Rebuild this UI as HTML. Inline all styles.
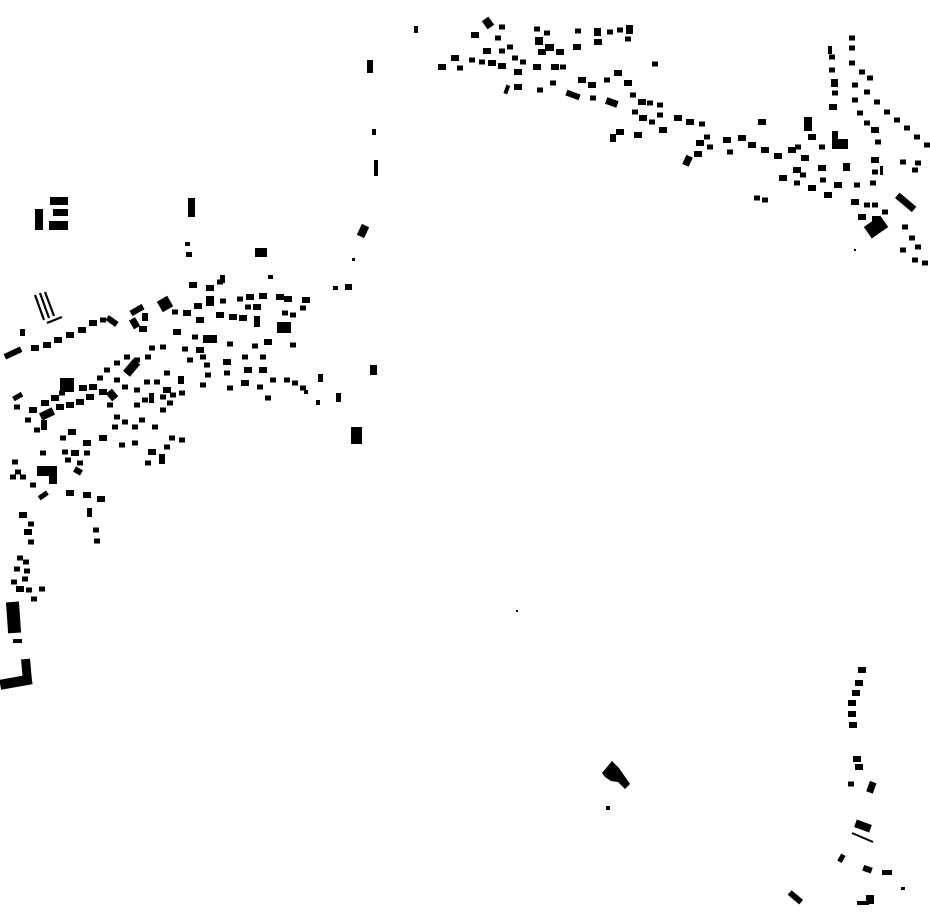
<!DOCTYPE html>
<html><head><meta charset="utf-8"><style>
html,body{margin:0;padding:0;background:#fff;width:930px;height:924px;overflow:hidden}
svg{display:block}
</style></head><body>
<svg width="930" height="924" viewBox="0 0 930 924" xmlns="http://www.w3.org/2000/svg">
<defs><rect id="d" x="-4" y="-3" width="8" height="6"/><rect id="s" x="-3" y="-2.5" width="6" height="5"/></defs>
<g fill="#000">
<rect x="50" y="197" width="18" height="8"/><rect x="53" y="209" width="15" height="7"/><rect x="49" y="221" width="19" height="9"/><rect x="35" y="209" width="8" height="21"/>
<rect x="188" y="198" width="7" height="19"/><rect x="185" y="242" width="5" height="4"/><rect x="186" y="252" width="6" height="5"/>
<rect x="255" y="248" width="12" height="9"/><rect x="268" y="275" width="5" height="4"/>
<rect x="192" y="283" width="5" height="4"/><rect x="206" y="287" width="7" height="4"/><rect x="220" y="275" width="5" height="8"/>
<rect x="359" y="225" width="8" height="12" transform="rotate(25 363 231)"/><rect x="345" y="284" width="7" height="6"/><rect x="333" y="286" width="5" height="4"/><rect x="352" y="258" width="3" height="3"/>
<rect x="414" y="26" width="4" height="7"/><rect x="367" y="60" width="6" height="13"/><rect x="372" y="129" width="4" height="6"/><rect x="374" y="160" width="4" height="16"/>
<rect x="370" y="365" width="7" height="10"/><rect x="351" y="427" width="11" height="17"/><rect x="336" y="393" width="5" height="9"/><rect x="318" y="374" width="5" height="8"/><rect x="316" y="400" width="4" height="5"/><rect x="304" y="390" width="4" height="4"/>
<g stroke="#000" stroke-width="2.2"><line x1="35" y1="295" x2="44" y2="320"/><line x1="40" y1="293" x2="49" y2="318"/><line x1="45" y1="292" x2="54" y2="316"/><line x1="47" y1="323" x2="62" y2="317"/></g>
<g>
<use href="#d" x="193" y="285"/><use href="#d" x="210" y="288"/><use href="#s" x="220" y="282"/><use href="#d" x="280" y="297"/><use href="#d" x="263" y="296"/><use href="#d" x="250" y="297"/><use href="#s" x="240" y="299"/><use href="#d" x="288" y="299"/><use href="#d" x="306" y="300"/><use href="#s" x="303" y="308"/>
<use href="#d" x="198" y="306"/><rect x="206" y="296" width="8" height="10"/><use href="#s" x="223" y="301"/><rect x="159" y="298" width="12" height="12" transform="rotate(-30 165 304)"/><use href="#s" x="175" y="312"/><use href="#d" x="187" y="313"/>
<rect x="130" y="307" width="14" height="6" transform="rotate(-30 137 310)"/><rect x="142" y="313" width="6" height="8"/><rect x="131" y="318" width="7" height="10" transform="rotate(-30 135 323)"/><use href="#d" x="143" y="329"/>
<rect x="106" y="318" width="12" height="6" transform="rotate(35 112 321)"/><use href="#s" x="103" y="320"/><use href="#d" x="93" y="323"/><use href="#d" x="82" y="330"/><use href="#d" x="70" y="335"/><use href="#d" x="58" y="340"/><use href="#d" x="47" y="345"/><use href="#d" x="35" y="348"/><rect x="4" y="350" width="18" height="6" transform="rotate(-25 13 353)"/><rect x="20" y="329" width="5" height="7"/>
<use href="#d" x="200" y="320"/><use href="#d" x="220" y="315"/><use href="#d" x="233" y="317"/><use href="#d" x="243" y="318"/><use href="#s" x="248" y="307"/><use href="#d" x="257" y="307"/><rect x="254" y="316" width="6" height="11"/><rect x="277" y="322" width="14" height="11"/><use href="#s" x="285" y="313"/><use href="#s" x="293" y="315"/><use href="#s" x="293" y="345"/><use href="#d" x="268" y="342"/><use href="#s" x="255" y="346"/><use href="#s" x="230" y="344"/><rect x="203" y="335" width="14" height="8"/><use href="#s" x="195" y="337"/><use href="#d" x="177" y="332"/><use href="#s" x="163" y="347"/><use href="#s" x="152" y="348"/><use href="#s" x="148" y="357"/><use href="#s" x="185" y="349"/><use href="#d" x="200" y="350"/><use href="#s" x="203" y="357"/><use href="#s" x="190" y="360"/><use href="#s" x="207" y="365"/><use href="#d" x="227" y="362"/><use href="#s" x="208" y="375"/><use href="#s" x="227" y="373"/><use href="#d" x="248" y="370"/><use href="#d" x="263" y="370"/><use href="#s" x="263" y="357"/><use href="#s" x="245" y="357"/><use href="#s" x="203" y="385"/><use href="#s" x="230" y="388"/><use href="#d" x="245" y="383"/><use href="#s" x="260" y="387"/><use href="#s" x="268" y="398"/><use href="#s" x="273" y="380"/><use href="#s" x="287" y="380"/><use href="#s" x="295" y="383"/><use href="#s" x="303" y="388"/>
<rect x="124" y="363" width="16" height="9" transform="rotate(-50 132 368)"/><use href="#s" x="137" y="360"/><use href="#s" x="127" y="357"/><use href="#s" x="117" y="363"/><use href="#s" x="107" y="370"/><use href="#s" x="100" y="378"/><use href="#s" x="117" y="380"/><use href="#s" x="125" y="387"/><rect x="108" y="390" width="8" height="10" transform="rotate(-40 112 395)"/><use href="#d" x="103" y="392"/><use href="#d" x="93" y="387"/><use href="#d" x="83" y="388"/><rect x="60" y="378" width="14" height="14"/><use href="#s" x="62" y="393"/><use href="#d" x="55" y="398"/><use href="#d" x="45" y="403"/><use href="#d" x="33" y="410"/><rect x="13" y="394" width="10" height="5" transform="rotate(-30 18 397)"/><use href="#s" x="17" y="407"/><use href="#s" x="28" y="420"/><use href="#s" x="37" y="430"/><rect x="40" y="410" width="14" height="8" transform="rotate(-25 47 414)"/><rect x="41" y="420" width="6" height="10"/><use href="#d" x="60" y="407"/><use href="#d" x="70" y="405"/><use href="#d" x="80" y="402"/><use href="#d" x="90" y="397"/><use href="#s" x="110" y="405"/><use href="#s" x="117" y="417"/><use href="#s" x="125" y="422"/><use href="#s" x="115" y="427"/><use href="#s" x="135" y="427"/><use href="#s" x="142" y="420"/><use href="#s" x="155" y="427"/><use href="#s" x="137" y="405"/><use href="#s" x="145" y="400"/><rect x="149" y="393" width="5" height="10"/><use href="#s" x="137" y="390"/><use href="#s" x="147" y="382"/><use href="#s" x="157" y="382"/><use href="#s" x="167" y="373"/><rect x="178" y="376" width="6" height="8"/><use href="#d" x="167" y="390"/><use href="#s" x="163" y="397"/><use href="#s" x="173" y="395"/><use href="#s" x="182" y="393"/><use href="#s" x="170" y="403"/><use href="#s" x="163" y="410"/>
<use href="#s" x="63" y="438"/><use href="#d" x="72" y="432"/><use href="#d" x="87" y="443"/><use href="#d" x="103" y="438"/><use href="#s" x="122" y="445"/><use href="#s" x="135" y="443"/><use href="#d" x="152" y="452"/><rect x="159" y="454" width="6" height="10"/><use href="#s" x="148" y="463"/><use href="#s" x="167" y="447"/><use href="#s" x="172" y="438"/><use href="#s" x="182" y="440"/>
<use href="#s" x="43" y="453"/><use href="#s" x="65" y="452"/><use href="#d" x="75" y="453"/><use href="#s" x="87" y="453"/><use href="#s" x="68" y="460"/><use href="#s" x="80" y="463"/><rect x="74" y="468" width="8" height="6" transform="rotate(30 78 471)"/><rect x="37" y="466" width="20" height="10"/><rect x="49" y="473" width="8" height="11"/><use href="#s" x="15" y="462"/><use href="#s" x="18" y="472"/><use href="#s" x="13" y="477"/><use href="#s" x="23" y="477"/><use href="#s" x="33" y="485"/>
<rect x="38" y="493" width="10" height="5" transform="rotate(-35 43 495)"/><use href="#d" x="70" y="493"/><use href="#d" x="87" y="495"/><use href="#d" x="101" y="499"/><rect x="87" y="508" width="5" height="9"/><use href="#s" x="96" y="530"/><use href="#s" x="97" y="541"/>
<use href="#d" x="23" y="515"/><use href="#s" x="31" y="524"/><use href="#d" x="28" y="532"/><use href="#s" x="31" y="542"/><use href="#s" x="20" y="558"/><use href="#s" x="26" y="562"/><use href="#s" x="17" y="569"/><use href="#s" x="27" y="571"/><use href="#s" x="25" y="579"/><use href="#s" x="14" y="582"/><use href="#d" x="20" y="589"/><use href="#s" x="29" y="590"/><use href="#s" x="42" y="589"/><use href="#s" x="34" y="599"/>
<rect x="7" y="602" width="13" height="31" transform="rotate(-4 13 617)"/><rect x="13" y="639" width="9" height="4"/><rect x="22" y="659" width="9" height="24" transform="rotate(-5 26 670)"/><rect x="0" y="677" width="32" height="10" transform="rotate(-10 16 682)"/>
</g>
<g>
<rect x="484" y="18" width="8" height="10" transform="rotate(-35 488 23)"/><use href="#s" x="502" y="27"/><use href="#d" x="475" y="35"/><use href="#s" x="498" y="38"/><use href="#s" x="510" y="47"/><use href="#d" x="487" y="51"/><use href="#s" x="502" y="51"/><use href="#d" x="455" y="58"/><use href="#s" x="460" y="68"/><use href="#d" x="442" y="67"/><use href="#s" x="472" y="60"/><use href="#s" x="482" y="62"/><use href="#d" x="492" y="63"/><use href="#d" x="502" y="66"/><use href="#s" x="515" y="58"/><use href="#s" x="523" y="62"/><use href="#d" x="537" y="67"/><use href="#d" x="518" y="72"/><use href="#d" x="518" y="87"/><rect x="505" y="85" width="4" height="9" transform="rotate(20 507 89)"/><use href="#s" x="540" y="90"/><use href="#s" x="553" y="83"/><use href="#d" x="555" y="67"/><use href="#s" x="563" y="67"/><use href="#s" x="537" y="29"/><use href="#s" x="547" y="33"/><rect x="535" y="37" width="8" height="8"/><use href="#d" x="542" y="52"/><rect x="545" y="44" width="9" height="7"/><use href="#d" x="560" y="52"/><use href="#s" x="578" y="31"/><use href="#d" x="577" y="47"/><rect x="594" y="28" width="7" height="8"/><use href="#d" x="598" y="42"/><use href="#s" x="610" y="32"/><use href="#s" x="620" y="30"/><rect x="626" y="25" width="7" height="9"/><use href="#s" x="628" y="39"/>
<use href="#d" x="582" y="80"/><use href="#d" x="592" y="85"/><rect x="566" y="92" width="14" height="6" transform="rotate(20 573 95)"/><use href="#s" x="593" y="98"/><rect x="606" y="99" width="12" height="7" transform="rotate(20 612 102)"/><use href="#s" x="607" y="80"/><use href="#d" x="618" y="73"/><use href="#d" x="628" y="83"/><use href="#s" x="633" y="95"/><use href="#d" x="642" y="102"/><use href="#s" x="650" y="103"/><use href="#s" x="660" y="105"/><use href="#s" x="635" y="112"/><use href="#d" x="643" y="118"/><use href="#s" x="652" y="122"/><use href="#s" x="660" y="115"/><use href="#d" x="663" y="130"/><use href="#d" x="678" y="118"/><use href="#d" x="690" y="122"/><use href="#s" x="702" y="124"/><use href="#s" x="707" y="137"/><use href="#d" x="700" y="143"/><use href="#s" x="710" y="147"/><use href="#d" x="698" y="154"/><rect x="684" y="156" width="7" height="10" transform="rotate(25 688 161)"/><use href="#d" x="727" y="140"/><use href="#s" x="730" y="152"/><use href="#d" x="742" y="138"/><use href="#d" x="752" y="145"/><use href="#d" x="765" y="150"/><use href="#d" x="778" y="156"/><use href="#d" x="792" y="150"/><use href="#s" x="798" y="147"/><use href="#s" x="655" y="64"/><use href="#d" x="620" y="132"/><rect x="610" y="134" width="6" height="8"/><use href="#d" x="638" y="135"/>
<use href="#d" x="762" y="122"/><rect x="804" y="117" width="8" height="14"/><use href="#d" x="812" y="137"/><use href="#s" x="822" y="147"/><rect x="832" y="131" width="6" height="8"/><rect x="832" y="139" width="16" height="10"/><use href="#d" x="805" y="158"/><use href="#d" x="797" y="170"/><use href="#s" x="803" y="175"/><use href="#d" x="783" y="178"/><use href="#s" x="797" y="183"/><use href="#d" x="812" y="188"/><use href="#d" x="822" y="168"/><use href="#s" x="823" y="180"/><use href="#d" x="838" y="185"/><use href="#d" x="828" y="195"/><rect x="843" y="163" width="7" height="8"/><use href="#s" x="857" y="185"/><use href="#s" x="873" y="183"/><use href="#s" x="875" y="172"/><rect x="880" y="166" width="3" height="9"/><use href="#d" x="875" y="160"/><use href="#s" x="757" y="198"/><use href="#s" x="765" y="200"/>
<use href="#d" x="855" y="202"/><use href="#s" x="867" y="205"/><use href="#s" x="875" y="205"/><use href="#s" x="885" y="212"/><use href="#d" x="862" y="217"/><rect x="866" y="220" width="20" height="14" transform="rotate(-35 876 227)"/><rect x="872" y="216" width="8" height="8"/><rect x="895" y="199" width="22" height="7" transform="rotate(40 906 202)"/><use href="#s" x="905" y="227"/><use href="#s" x="912" y="238"/><use href="#s" x="918" y="247"/><use href="#s" x="903" y="250"/><use href="#s" x="915" y="260"/><use href="#s" x="925" y="263"/><use href="#s" x="903" y="162"/><use href="#s" x="918" y="163"/><use href="#s" x="915" y="170"/><use href="#s" x="927" y="145"/><use href="#s" x="917" y="137"/><use href="#s" x="907" y="128"/><use href="#s" x="897" y="120"/><use href="#s" x="887" y="112"/><use href="#s" x="877" y="102"/><use href="#s" x="867" y="92"/><use href="#s" x="855" y="85"/><use href="#s" x="870" y="78"/><use href="#s" x="862" y="72"/><use href="#s" x="852" y="63"/><use href="#s" x="852" y="48"/><use href="#s" x="852" y="38"/><use href="#s" x="855" y="100"/><use href="#s" x="860" y="113"/><use href="#s" x="867" y="123"/><use href="#d" x="875" y="130"/><use href="#s" x="878" y="142"/><rect x="828" y="46" width="4" height="8"/><use href="#s" x="832" y="57"/><use href="#s" x="832" y="70"/><rect x="831" y="79" width="7" height="8"/><use href="#s" x="835" y="93"/><use href="#d" x="833" y="107"/><rect x="854" y="249" width="2" height="2"/>
</g>
<polygon points="602,773 612,761 619,768 630,784 625,789 618,782 611,781 605,777"/>
<rect x="606" y="806" width="4" height="4"/><rect x="516" y="610" width="2" height="2"/>
<use href="#d" x="862" y="670"/><use href="#d" x="859" y="683"/><use href="#d" x="856" y="693"/><use href="#d" x="852" y="703"/><use href="#d" x="852" y="714"/><use href="#d" x="853" y="725"/><use href="#d" x="857" y="759"/><use href="#d" x="859" y="767"/><use href="#s" x="851" y="784"/><rect x="868" y="782" width="7" height="11" transform="rotate(20 872 787)"/><rect x="855" y="822" width="16" height="8" transform="rotate(20 863 826)"/><line x1="852" y1="833" x2="873" y2="842" stroke="#000" stroke-width="2"/><rect x="839" y="854" width="5" height="8" transform="rotate(30 841 858)"/><rect x="863" y="866" width="9" height="6" transform="rotate(20 867 869)"/><rect x="882" y="870" width="10" height="5"/><rect x="901" y="887" width="4" height="3"/><rect x="792" y="890" width="6" height="15" transform="rotate(-50 795 897)"/><rect x="866" y="895" width="8" height="9"/><rect x="857" y="901" width="12" height="4"/>
</g>
</svg>
</body></html>
